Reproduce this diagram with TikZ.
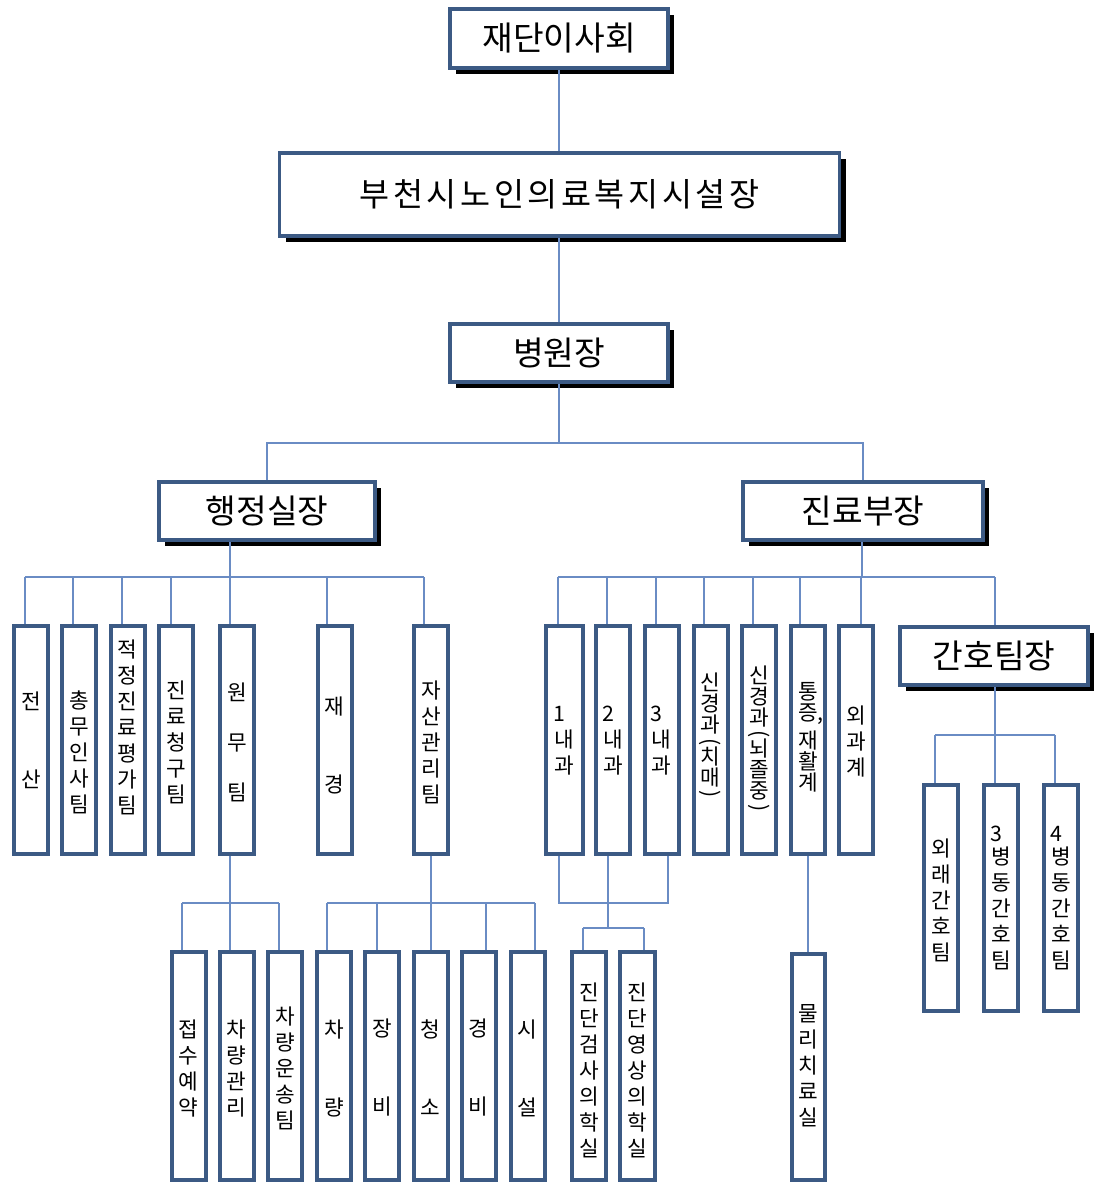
\documentclass[tikz,border=0pt]{standalone}
\usepackage{fontspec}
\setmainfont{Noto Sans CJK KR}
\usetikzlibrary{shadows}
\definecolor{bord}{HTML}{3C5A84}
\definecolor{linecol}{HTML}{6A8CC4}
\newcommand\vp[1]{\rotatebox[origin=c]{-90}{#1}}
\newcommand\tb[7]{%
  \node[tall, minimum width={#4*0.75pt}, minimum height={#5*0.75pt}] (#1) at (#2,#3) {};
  \node[vtext] (#1t) at (#2,{#3+#6}) {#7};}
\begin{document}
\begin{tikzpicture}[x=0.75pt,y=-0.75pt,
  head/.style={draw=bord, line width=3pt, fill=white, inner sep=0pt,
    font=\fontsize{25}{30}\selectfont,
    drop shadow={shadow xshift=4.5pt, shadow yshift=-4.5pt, fill=black, opacity=1}},
  tall/.style={draw=bord, line width=3pt, fill=white, inner sep=0pt},
  vtext/.style={align=center, inner sep=0pt, font=\fontsize{16}{19.5}\selectfont},
  vtight/.style={align=center, inner sep=0pt, font=\fontsize{16}{15.75}\selectfont},
  link/.style={draw=linecol, line width=1.1pt}]
\useasboundingbox (0,0) rectangle (1093,1185);

% ---------- header boxes ----------
\node[head, minimum width={218*0.75pt}, minimum height={59*0.75pt}] (A) at (559,38.5) {재단이사회};
\node[head, line width=2.5pt, minimum width={560*0.75pt}, minimum height={83*0.75pt}] (B) at (559.5,194.5) {\fontsize{24.5}{29}\selectfont\addfontfeatures{LetterSpace=11}부천시노인의료복지시설장};
\node[head, minimum width={218*0.75pt}, minimum height={58*0.75pt}] (C) at (559,353) {병원장};
\node[head, minimum width={216*0.75pt}, minimum height={58*0.75pt}] (D) at (267,511) {행정실장};
\node[head, minimum width={240*0.75pt}, minimum height={58*0.75pt}] (E) at (863,511) {진료부장};
\node[head, minimum width={188*0.75pt}, minimum height={58*0.75pt}] (F) at (994,656) {간호팀장};

% ---------- connector coordinates ----------
\coordinate (cB) at (559,443);
\coordinate (dB) at (230,577);
\coordinate (eB) at (862,577);
\foreach \n/\x in {1/25,2/73,3/122,4/171,5/230,6/327,7/424}
  \coordinate (L\n) at (\x,577);
\foreach \n/\x in {1/558,2/607,3/656,4/704,5/753,6/800,7/861,8/995}
  \coordinate (R\n) at (\x,577);
\coordinate (wB) at (230,903);
\foreach \n/\x in {1/182,2/230,3/279}
  \coordinate (W\n) at (\x,903);
\coordinate (jB) at (431,903);
\foreach \n/\x in {1/327,2/377,3/431,4/486,5/535}
  \coordinate (J\n) at (\x,903);
\foreach \n/\x in {1/559,2/608,3/668}
  \coordinate (K\n) at (\x,903);
\coordinate (kM) at (608,928);
\foreach \n/\x in {1/583,2/644}
  \coordinate (M\n) at (\x,928);
\coordinate (fB) at (995,735);
\foreach \n/\x in {1/935,2/995,3/1055}
  \coordinate (N\n) at (\x,735);

% ---------- connectors (drawn before boxes) ----------
\draw[link] (A.south) -- (A.south |- B.north);
\draw[link] (B.south -| A.south) -- (C.north);
\draw[link] (C.south) -- (cB);
\draw[link] (D.north) |- (cB) -| (E.north);
% admin
\draw[link] (dB |- D.south) -- (dB);
\draw[link] (L1) -- (L7);
% medical
\draw[link] (eB |- E.south) -- (eB);
\draw[link] (R1) -- (R8);
\draw[link] (R8) -- (R8 |- F.north);
% nursing
\draw[link] (F.south -| fB) -- (fB);
\draw[link] (N1) -- (N3);

% ---------- tall boxes, row 1 (admin) ----------
\tb{jeonsan}{31}{740}{34}{228}{0}{전\\[39pt]산}
\tb{chongmu}{79}{740}{34}{228}{12}{총\\무\\인\\사\\팀}
\tb{jeokjeong}{127.5}{740}{34}{228}{-13}{적\\정\\진\\료\\평\\가\\팀}
\tb{cheonggu}{176}{740}{34}{228}{2}{진\\료\\청\\구\\팀}
\tb{wonmu}{237}{740}{34}{228}{2}{원\\[18pt]무\\[18pt]팀}
\tb{jaegyeong}{334.5}{740}{34}{228}{5}{재\\[39pt]경}
\tb{jasan}{431}{740}{34}{228}{2}{자\\산\\관\\리\\팀}
\foreach \n/\b in {1/jeonsan,2/chongmu,3/jeokjeong,4/cheonggu,5/wonmu,6/jaegyeong,7/jasan}
  \draw[link] (L\n) -- (L\n |- \b.north);

% ---------- tall boxes, row 1 (medical) ----------
\tb{nae1}{564.5}{740}{37}{228}{1}{\makebox[1em][l]{1}\\내\\과}
\tb{nae2}{613}{740}{34}{228}{1}{\makebox[1em][l]{2}\\내\\과}
\tb{nae3}{661.5}{740}{34}{228}{1}{\makebox[1em][l]{3}\\내\\과}
\foreach \n/\b in {1/nae1,2/nae2,3/nae3}
  \draw[link] (R\n) -- (R\n |- \b.north);
\node[tall, minimum width={34*0.75pt}, minimum height={228*0.75pt}] (sin1) at (710.5,740) {};
\node[vtight] (sin1t) at (710.5,737) {신\\경\\과\\[-4pt]\vp{(}\\[-4pt]치\\매\\[-4pt]\vp{)}};
\node[tall, minimum width={34*0.75pt}, minimum height={228*0.75pt}] (sin2) at (759,740) {};
\node[vtight] (sin2t) at (759,740) {신\\경\\과\\[-4pt]\vp{(}\\[-4pt]뇌\\졸\\중\\[-4pt]\vp{)}};
\node[tall, minimum width={34*0.75pt}, minimum height={228*0.75pt}] (tong) at (808,740) {};
\node[vtight] (tongt) at (808,737) {통\\증\rlap{,}\\[4pt]재\\활\\계};
\tb{oegwa}{856}{740}{34}{228}{2}{외\\과\\계}
\draw[link] (R4) -- (R4 |- sin1.north);
\draw[link] (R5) -- (R5 |- sin2.north);
\draw[link] (R6) -- (R6 |- tong.north);
\draw[link] (R7) -- (R7 |- oegwa.north);

% ---------- second level under 원무팀 ----------
\draw[link] (wonmu.south -| wB) -- (wB);
\draw[link] (W1) -- (W3);
\tb{jeopsu}{188.5}{1066}{34}{228}{2}{접\\수\\예\\약}
\tb{chagwan}{236.5}{1066}{34}{228}{3}{차\\량\\관\\리}
\tb{unsong}{285}{1066}{34}{228}{2}{차\\량\\운\\송\\팀}
\foreach \n/\b in {1/jeopsu,2/chagwan,3/unsong}
  \draw[link] (W\n) -- (W\n |- \b.north);

% ---------- second level under 자산관리팀 ----------
\draw[link] (jasan.south -| jB) -- (jB);
\draw[link] (J1) -- (J5);
\tb{charyang}{334}{1066}{34}{228}{2}{차\\[39pt]량}
\tb{jangbi}{382}{1066}{34}{228}{2}{장\\[39pt]비}
\tb{cheongso}{430.5}{1066}{34}{228}{2}{청\\[39pt]소}
\tb{gyeongbi}{478.5}{1066}{34}{228}{2}{경\\[39pt]비}
\tb{siseol}{527.5}{1066}{34}{228}{2}{시\\[39pt]설}
\foreach \n/\b in {1/charyang,2/jangbi,3/cheongso,4/gyeongbi,5/siseol}
  \draw[link] (J\n) -- (J\n |- \b.north);

% ---------- second level under 내과 ----------
\draw[link] (nae1.south -| K1) -- (K1) -- (K3) -- (nae3.south -| K3);
\draw[link] (nae2.south -| K2) -- (K2) -- (kM);
\draw[link] (M1) -- (M2);
\tb{jindan1}{589}{1066}{34}{228}{4}{진\\단\\검\\사\\의\\학\\실}
\tb{jindan2}{637.5}{1066}{35}{228}{4}{진\\단\\영\\상\\의\\학\\실}
\draw[link] (M1) -- (M1 |- jindan1.north);
\draw[link] (M2) -- (M2 |- jindan2.north);

% ---------- 물리치료실 ----------
\tb{mulli}{808.5}{1067}{33}{226}{-1}{물\\리\\치\\료\\실}
\draw[link] (tong.south) -- (tong.south |- mulli.north);

% ---------- nursing teams ----------
\tb{oerae}{941}{898}{34}{226}{2}{외\\래\\간\\호\\팀}
\tb{byeong3}{1001}{898}{34}{226}{0}{\makebox[1em][l]{3}\\[-2pt]병\\동\\간\\호\\팀}
\tb{byeong4}{1061}{898}{34}{226}{0}{\makebox[1em][l]{4}\\[-2pt]병\\동\\간\\호\\팀}
\foreach \n/\b in {1/oerae,2/byeong3,3/byeong4}
  \draw[link] (N\n) -- (N\n |- \b.north);
\end{tikzpicture}
\end{document}
